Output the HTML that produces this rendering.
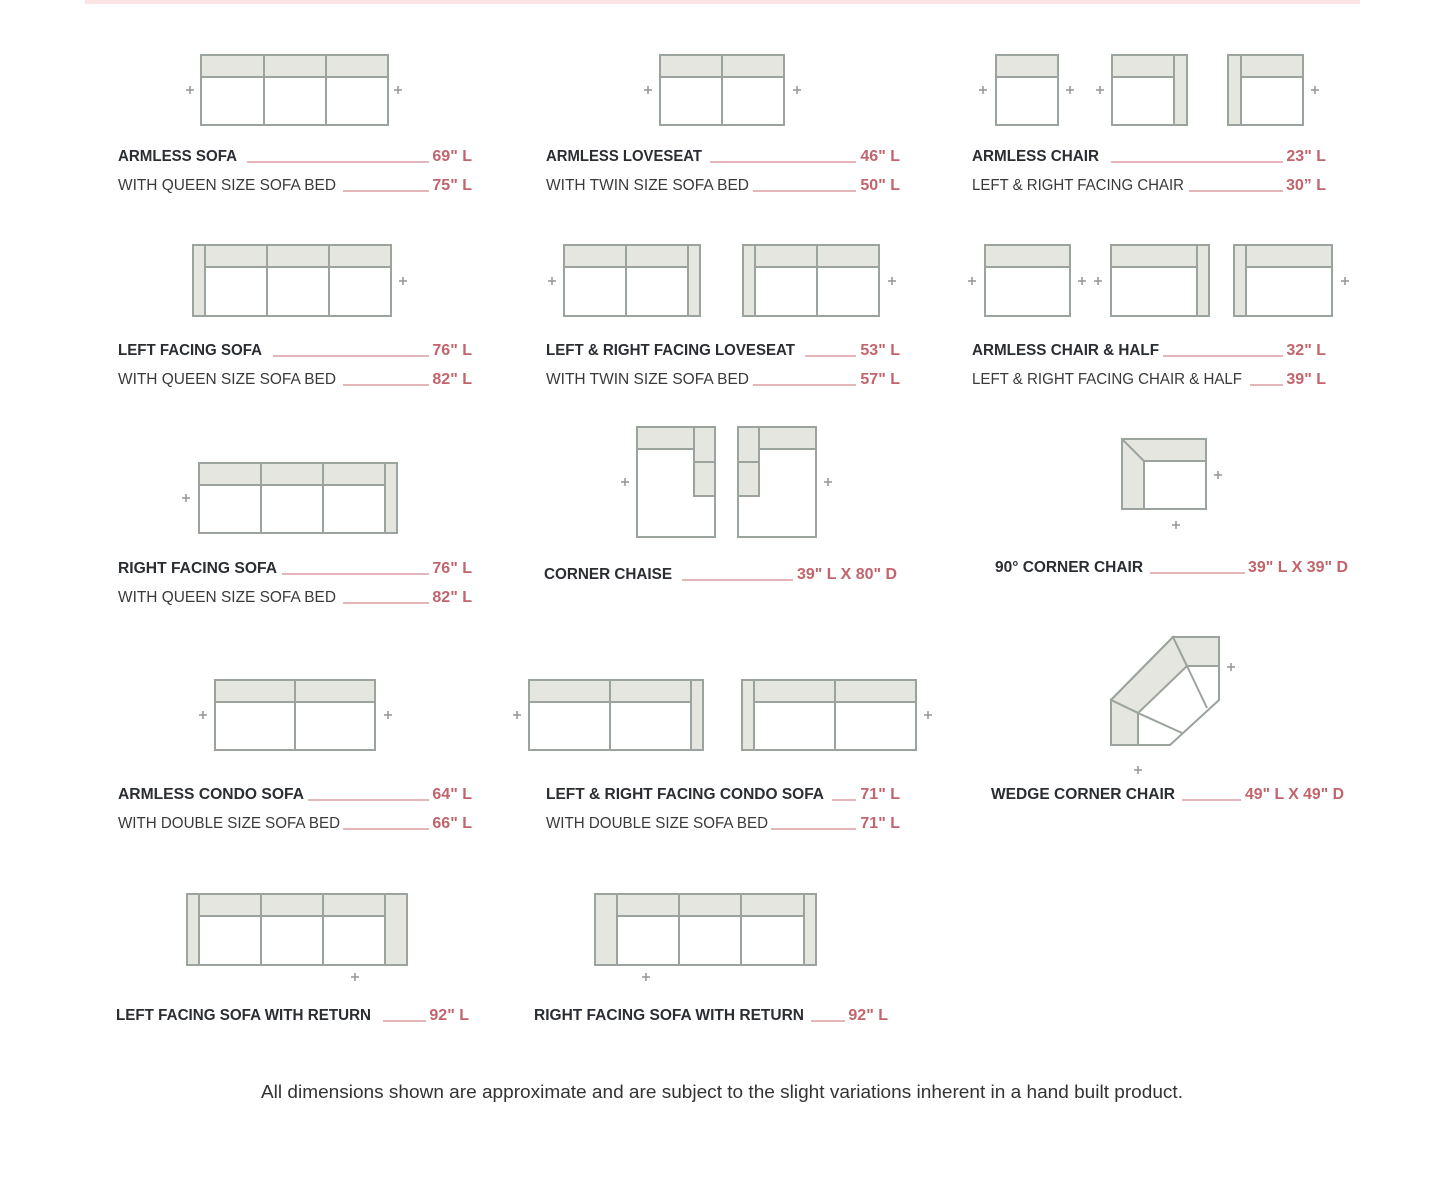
<!DOCTYPE html>
<html><head><meta charset="utf-8"><style>
html,body{margin:0;padding:0;background:#fff;}
svg{display:block;}
.b{font-family:"Liberation Sans",sans-serif;font-weight:bold;font-size:16px;fill:#2a2e33;}
.n{font-family:"Liberation Sans",sans-serif;font-size:16px;fill:#3a3a3a;}
.r{font-family:"Liberation Sans",sans-serif;font-weight:bold;font-size:16px;fill:#c2646c;text-anchor:end;}
.u{stroke:#d4898f;stroke-width:1.2;}
.s{fill:#fff;stroke:#9ba39d;stroke-width:2;}
.f{fill:#e5e6e0;stroke:#9ba39d;stroke-width:2;}
.l{stroke:#9ba39d;stroke-width:2;}
.p{stroke:#999;stroke-width:1.6;}
</style></head><body>
<svg width="1445" height="1179" viewBox="0 0 1445 1179" xmlns="http://www.w3.org/2000/svg">
<rect x="85" y="0" width="1275" height="4" fill="#fbe4e4"/>
<defs>
<g id="plus"><line class="p" x1="-4" y1="0" x2="4" y2="0"/><line class="p" x1="0" y1="-4" x2="0" y2="4"/></g>
</defs>

<!-- Row 1 -->
<rect class="s" x="201" y="55" width="187" height="70"/><rect class="f" x="201" y="55" width="187" height="22"/>
<line class="l" x1="264" y1="55" x2="264" y2="125"/><line class="l" x1="326" y1="55" x2="326" y2="125"/>
<use href="#plus" x="190" y="90"/><use href="#plus" x="398" y="90"/>

<rect class="s" x="660" y="55" width="124" height="70"/><rect class="f" x="660" y="55" width="124" height="22"/>
<line class="l" x1="722" y1="55" x2="722" y2="125"/>
<use href="#plus" x="648" y="90"/><use href="#plus" x="797" y="90"/>

<rect class="s" x="996" y="55" width="62" height="70"/><rect class="f" x="996" y="55" width="62" height="22"/>
<rect class="s" x="1112" y="55" width="75" height="70"/><rect class="f" x="1112" y="55" width="62" height="22"/><rect class="f" x="1174" y="55" width="13" height="70"/>
<rect class="s" x="1228" y="55" width="75" height="70"/><rect class="f" x="1241" y="55" width="62" height="22"/><rect class="f" x="1228" y="55" width="13" height="70"/>
<use href="#plus" x="983" y="90"/><use href="#plus" x="1070" y="90"/><use href="#plus" x="1100" y="90"/><use href="#plus" x="1315" y="90"/>

<text class="b" x="118" y="161" textLength="119" lengthAdjust="spacingAndGlyphs">ARMLESS SOFA</text>
<line class="u" x1="247" y1="162" x2="429" y2="162"/><text class="r" x="472" y="161">69" L</text>
<text class="n" x="118" y="190" textLength="218" lengthAdjust="spacingAndGlyphs">WITH  QUEEN SIZE SOFA BED</text>
<line class="u" x1="343" y1="191" x2="429" y2="191"/><text class="r" x="472" y="190">75" L</text>

<text class="b" x="546" y="161" textLength="156" lengthAdjust="spacingAndGlyphs">ARMLESS LOVESEAT</text>
<line class="u" x1="710" y1="162" x2="856" y2="162"/><text class="r" x="900" y="161">46" L</text>
<text class="n" x="546" y="190" textLength="203" lengthAdjust="spacingAndGlyphs">WITH  TWIN SIZE SOFA BED</text>
<line class="u" x1="753" y1="191" x2="856" y2="191"/><text class="r" x="900" y="190">50" L</text>

<text class="b" x="972" y="161" textLength="127" lengthAdjust="spacingAndGlyphs">ARMLESS CHAIR</text>
<line class="u" x1="1111" y1="162" x2="1283" y2="162"/><text class="r" x="1326" y="161">23" L</text>
<text class="n" x="972" y="190" textLength="212" lengthAdjust="spacingAndGlyphs">LEFT &amp; RIGHT FACING CHAIR</text>
<line class="u" x1="1189" y1="191" x2="1283" y2="191"/><text class="r" x="1326" y="190">30” L</text>

<!-- Row 2 -->
<rect class="s" x="193" y="245" width="198" height="71"/><rect class="f" x="205" y="245" width="186" height="22"/><rect class="f" x="193" y="245" width="12" height="71"/>
<line class="l" x1="267" y1="245" x2="267" y2="316"/><line class="l" x1="329" y1="245" x2="329" y2="316"/>
<use href="#plus" x="403" y="281"/>

<rect class="s" x="564" y="245" width="136" height="71"/><rect class="f" x="564" y="245" width="124" height="22"/><rect class="f" x="688" y="245" width="12" height="71"/>
<line class="l" x1="626" y1="245" x2="626" y2="316"/>
<rect class="s" x="743" y="245" width="136" height="71"/><rect class="f" x="755" y="245" width="124" height="22"/><rect class="f" x="743" y="245" width="12" height="71"/>
<line class="l" x1="817" y1="245" x2="817" y2="316"/>
<use href="#plus" x="552" y="281"/><use href="#plus" x="892" y="281"/>

<rect class="s" x="985" y="245" width="85" height="71"/><rect class="f" x="985" y="245" width="85" height="22"/>
<rect class="s" x="1111" y="245" width="98" height="71"/><rect class="f" x="1111" y="245" width="86" height="22"/><rect class="f" x="1197" y="245" width="12" height="71"/>
<rect class="s" x="1234" y="245" width="98" height="71"/><rect class="f" x="1246" y="245" width="86" height="22"/><rect class="f" x="1234" y="245" width="12" height="71"/>
<use href="#plus" x="972" y="281"/><use href="#plus" x="1082" y="281"/><use href="#plus" x="1098" y="281"/><use href="#plus" x="1345" y="281"/>

<text class="b" x="118" y="355" textLength="144" lengthAdjust="spacingAndGlyphs">LEFT FACING SOFA</text>
<line class="u" x1="273" y1="356" x2="429" y2="356"/><text class="r" x="472" y="355">76" L</text>
<text class="n" x="118" y="384" textLength="218" lengthAdjust="spacingAndGlyphs">WITH  QUEEN SIZE SOFA BED</text>
<line class="u" x1="343" y1="385" x2="429" y2="385"/><text class="r" x="472" y="384">82" L</text>

<text class="b" x="546" y="355" textLength="249" lengthAdjust="spacingAndGlyphs">LEFT &amp; RIGHT FACING LOVESEAT</text>
<line class="u" x1="805" y1="356" x2="856" y2="356"/><text class="r" x="900" y="355">53" L</text>
<text class="n" x="546" y="384" textLength="203" lengthAdjust="spacingAndGlyphs">WITH  TWIN SIZE SOFA BED</text>
<line class="u" x1="753" y1="385" x2="856" y2="385"/><text class="r" x="900" y="384">57" L</text>

<text class="b" x="972" y="355" textLength="187" lengthAdjust="spacingAndGlyphs">ARMLESS CHAIR &amp; HALF</text>
<line class="u" x1="1163" y1="356" x2="1283" y2="356"/><text class="r" x="1326" y="355">32" L</text>
<text class="n" x="972" y="384" textLength="270" lengthAdjust="spacingAndGlyphs">LEFT &amp; RIGHT FACING CHAIR &amp; HALF</text>
<line class="u" x1="1250" y1="385" x2="1283" y2="385"/><text class="r" x="1326" y="384">39" L</text>

<!-- Row 3 -->
<rect class="s" x="199" y="463" width="198" height="70"/><rect class="f" x="199" y="463" width="186" height="22"/><rect class="f" x="385" y="463" width="12" height="70"/>
<line class="l" x1="261" y1="463" x2="261" y2="533"/><line class="l" x1="323" y1="463" x2="323" y2="533"/>
<use href="#plus" x="186" y="498"/>

<rect class="s" x="637" y="427" width="78" height="110"/><rect class="f" x="637" y="427" width="57" height="22"/>
<rect class="f" x="694" y="427" width="21" height="35"/><rect class="f" x="694" y="462" width="21" height="34"/>
<rect class="s" x="738" y="427" width="78" height="110"/><rect class="f" x="759" y="427" width="57" height="22"/>
<rect class="f" x="738" y="427" width="21" height="35"/><rect class="f" x="738" y="462" width="21" height="34"/>
<use href="#plus" x="625" y="482"/><use href="#plus" x="828" y="482"/>

<rect class="s" x="1122" y="439" width="84" height="70"/>
<polygon class="f" points="1122,439 1206,439 1206,461 1144,461 1144,509 1122,509"/>
<line class="l" x1="1122" y1="439" x2="1144" y2="461"/>
<use href="#plus" x="1218" y="475"/><use href="#plus" x="1176" y="525"/>

<text class="b" x="118" y="573" textLength="159" lengthAdjust="spacingAndGlyphs">RIGHT FACING SOFA</text>
<line class="u" x1="282" y1="574" x2="429" y2="574"/><text class="r" x="472" y="573">76" L</text>
<text class="n" x="118" y="602" textLength="218" lengthAdjust="spacingAndGlyphs">WITH  QUEEN SIZE SOFA BED</text>
<line class="u" x1="343" y1="603" x2="429" y2="603"/><text class="r" x="472" y="602">82" L</text>

<text class="b" x="544" y="579" textLength="128" lengthAdjust="spacingAndGlyphs">CORNER CHAISE</text>
<line class="u" x1="682" y1="580" x2="793" y2="580"/><text class="r" x="897" y="579" textLength="100" lengthAdjust="spacingAndGlyphs">39" L X 80" D</text>

<text class="b" x="995" y="572" textLength="148" lengthAdjust="spacingAndGlyphs">90° CORNER CHAIR</text>
<line class="u" x1="1150" y1="573" x2="1245" y2="573"/><text class="r" x="1348" y="572" textLength="100" lengthAdjust="spacingAndGlyphs">39" L X 39" D</text>

<!-- Wedge -->
<polygon class="s" points="1111,700 1173,637 1219,637 1219,653 1219,700 1170,745 1111,745"/>
<polygon class="f" points="1111,700 1173,637 1187,666 1138,713"/>
<polygon class="f" points="1111,700 1138,713 1138,745 1111,745"/>
<polygon class="f" points="1173,637 1219,637 1219,666 1187,666"/>
<line class="l" x1="1138" y1="713" x2="1182" y2="733"/><line class="l" x1="1187" y1="666" x2="1207" y2="708"/>
<use href="#plus" x="1231" y="667"/><use href="#plus" x="1138" y="770"/>

<!-- Row 4 -->
<rect class="s" x="215" y="680" width="160" height="70"/><rect class="f" x="215" y="680" width="160" height="22"/>
<line class="l" x1="295" y1="680" x2="295" y2="750"/>
<use href="#plus" x="203" y="715"/><use href="#plus" x="388" y="715"/>

<rect class="s" x="529" y="680" width="174" height="70"/><rect class="f" x="529" y="680" width="162" height="22"/><rect class="f" x="691" y="680" width="12" height="70"/>
<line class="l" x1="610" y1="680" x2="610" y2="750"/>
<rect class="s" x="742" y="680" width="174" height="70"/><rect class="f" x="754" y="680" width="162" height="22"/><rect class="f" x="742" y="680" width="12" height="70"/>
<line class="l" x1="835" y1="680" x2="835" y2="750"/>
<use href="#plus" x="517" y="715"/><use href="#plus" x="928" y="715"/>

<text class="b" x="118" y="799" textLength="186" lengthAdjust="spacingAndGlyphs">ARMLESS CONDO SOFA</text>
<line class="u" x1="308" y1="800" x2="429" y2="800"/><text class="r" x="472" y="799">64" L</text>
<text class="n" x="118" y="828" textLength="222" lengthAdjust="spacingAndGlyphs">WITH DOUBLE SIZE SOFA BED</text>
<line class="u" x1="343" y1="829" x2="429" y2="829"/><text class="r" x="472" y="828">66" L</text>

<text class="b" x="546" y="799" textLength="278" lengthAdjust="spacingAndGlyphs">LEFT &amp; RIGHT FACING CONDO SOFA</text>
<line class="u" x1="832" y1="800" x2="856" y2="800"/><text class="r" x="900" y="799">71" L</text>
<text class="n" x="546" y="828" textLength="222" lengthAdjust="spacingAndGlyphs">WITH DOUBLE SIZE SOFA BED</text>
<line class="u" x1="771" y1="829" x2="856" y2="829"/><text class="r" x="900" y="828">71" L</text>

<text class="b" x="991" y="799" textLength="184" lengthAdjust="spacingAndGlyphs">WEDGE CORNER CHAIR</text>
<line class="u" x1="1182" y1="800" x2="1241" y2="800"/><text class="r" x="1344" y="799" textLength="99" lengthAdjust="spacingAndGlyphs">49" L X 49" D</text>

<!-- Row 5 -->
<rect class="s" x="187" y="894" width="220" height="71"/><rect class="f" x="199" y="894" width="186" height="22"/>
<rect class="f" x="187" y="894" width="12" height="71"/><rect class="f" x="385" y="894" width="22" height="71"/>
<line class="l" x1="261" y1="894" x2="261" y2="965"/><line class="l" x1="323" y1="894" x2="323" y2="965"/>
<use href="#plus" x="355" y="977"/>

<rect class="s" x="595" y="894" width="221" height="71"/><rect class="f" x="617" y="894" width="187" height="22"/>
<rect class="f" x="595" y="894" width="22" height="71"/><rect class="f" x="804" y="894" width="12" height="71"/>
<line class="l" x1="679" y1="894" x2="679" y2="965"/><line class="l" x1="741" y1="894" x2="741" y2="965"/>
<use href="#plus" x="646" y="977"/>

<text class="b" x="116" y="1020" textLength="255" lengthAdjust="spacingAndGlyphs">LEFT FACING SOFA WITH RETURN</text>
<line class="u" x1="383" y1="1021" x2="426" y2="1021"/><text class="r" x="469" y="1020">92" L</text>
<text class="b" x="534" y="1020" textLength="270" lengthAdjust="spacingAndGlyphs">RIGHT FACING SOFA WITH RETURN</text>
<line class="u" x1="811" y1="1021" x2="845" y2="1021"/><text class="r" x="888" y="1020">92" L</text>

<text x="261" y="1098" font-family="Liberation Sans, sans-serif" font-size="18" fill="#333" textLength="922" lengthAdjust="spacingAndGlyphs">All dimensions shown are approximate and are subject to the slight variations inherent in a hand built product.</text>
</svg>
</body></html>
